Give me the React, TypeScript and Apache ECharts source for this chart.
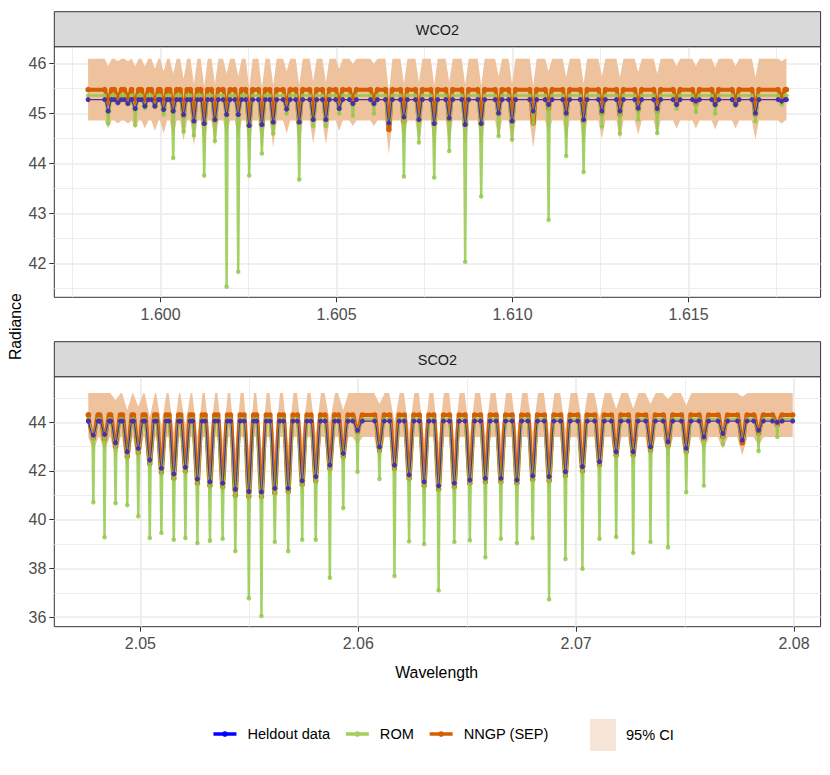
import React, { useEffect, useRef } from "react";
import * as echarts from "echarts";

// ---------------- data ----------------
// WCO2 panel
const wcoRange = [1.59794, 1.61778];
const wcoLineWl = [
  1.598511, 1.598787, 1.599071, 1.599278, 1.599554, 1.599838, 1.600085, 1.600358,
  1.600653, 1.600946, 1.601239, 1.601543, 1.601875, 1.602205, 1.602517, 1.602878,
  1.603199, 1.60358, 1.603938, 1.604335, 1.604696, 1.605074, 1.605463, 1.60606,
  1.606486, 1.606912, 1.607338, 1.607773, 1.608199, 1.608653, 1.609108, 1.609602,
  1.609985, 1.610585, 1.611023, 1.611523, 1.612017, 1.612537, 1.613048, 1.613568,
  1.614108, 1.614659, 1.615207, 1.615756, 1.616335, 1.616898, 1.617642,
];
const wcoRomMin = [
  44.8, 45.2, 45.2, 44.77, 45.11, 45.15, 44.98, 44.11, 44.64, 44.56, 43.76, 44.45,
  41.53, 41.83, 43.76, 44.2, 44.6, 45.0, 43.68, 44.75, 44.75, 45.0, 44.96, 45.0,
  44.8, 43.74, 44.42, 43.72, 44.25, 42.03, 43.34, 44.55, 44.48, 44.8, 42.87, 44.15,
  43.83, 44.74, 44.6, 44.88, 44.61, 45.1, 45.03, 45.0, 45.15, 44.85, 45.18,
];
const wcoObsMin = [
  45.05, 45.22, 45.2, 45.1, 45.15, 45.15, 45.08, 45.05, 44.98, 44.85, 44.8, 44.88,
  44.98, 44.98, 44.76, 44.78, 44.83, 45.09, 44.83, 44.88, 44.88, 45.1, 45.2, 45.2,
  44.81, 44.93, 44.88, 44.8, 44.91, 44.78, 44.8, 45.01, 44.85, 45.05, 45.18, 45.01,
  44.88, 45.05, 45.05, 45.11, 45.1, 45.18, 45.25, 45.18, 45.18, 45.01, 45.25,
];
const wcoNngpMin = [
  45.2, 45.3, 45.3, 45.2, 45.2, 45.15, 45.1, 45.05, 44.95, 44.85, 44.8, 44.85,
  45.05, 45.0, 44.77, 44.77, 44.82, 45.1, 44.82, 44.9, 44.88, 45.15, 45.25, 45.25,
  44.68, 44.85, 44.88, 44.82, 44.88, 44.83, 44.81, 45.0, 44.85, 44.81, 45.1, 44.98,
  44.85, 45.0, 44.98, 45.08, 45.05, 45.2, 45.2, 45.18, 45.2, 44.98, 45.3,
];
const wcoObsBase = 45.28;
const wcoRomBase = 45.36;
const wcoNngpBase = 45.48;
const wcoCiHigh = 46.1;
const wcoCiLow = 44.86;
const wcoCiHighOffset = 0.75;
const wcoCiLowOffset = 0.5;

// SCO2 panel
const scoRange = [2.04761, 2.07994];
const scoLineWl = [
  2.047841, 2.048356, 2.048861, 2.049398, 2.049904, 2.050432, 2.050965, 2.051534,
  2.052067, 2.052618, 2.053193, 2.053776, 2.054359, 2.054979, 2.055558, 2.056169,
  2.056785, 2.057428, 2.058048, 2.058696, 2.059311, 2.059968, 2.060974, 2.061663,
  2.062334, 2.063023, 2.063689, 2.06441, 2.065122, 2.065834, 2.066546, 2.067281,
  2.068007, 2.06876, 2.069509, 2.07029, 2.071071, 2.071838, 2.072619, 2.073413,
  2.074217, 2.075053, 2.075862, 2.076734, 2.077626, 2.078374, 2.079233,
];
const scoRomMin = [
  40.72, 39.28, 40.68, 40.6, 40.14, 39.25, 39.46, 39.18, 39.25, 39.04, 39.14, 39.22,
  38.71, 36.78, 36.05, 39.09, 38.71, 39.18, 39.18, 37.62, 40.48, 41.97, 41.67, 37.69,
  39.11, 39.0, 37.1, 39.09, 39.16, 38.46, 39.22, 39.04, 39.25, 36.73, 38.39, 37.99,
  39.22, 39.29, 38.64, 39.09, 38.87, 41.13, 41.4, 43.1, 43.3, 42.82, 43.4,
];
const scoObsMin = [
  43.47, 43.5, 43.16, 42.79, 42.93, 42.45, 42.11, 41.88, 42.15, 41.67, 41.56, 41.5,
  41.25, 41.16, 41.14, 41.29, 41.29, 41.6, 41.77, 42.24, 42.72, 43.67, 42.99, 42.24,
  41.84, 41.56, 41.39, 41.5, 41.63, 41.7, 41.7, 41.63, 41.8, 41.77, 41.97, 42.18,
  42.38, 42.79, 42.79, 42.99, 43.2, 42.93, 43.4, 43.54, 43.27, 43.67, 44.0,
];
const scoNngpMin = [
  43.35, 43.3, 43.0, 42.6, 42.75, 42.3, 41.95, 41.7, 42.0, 41.5, 41.4, 41.35,
  41.0, 40.95, 40.95, 41.1, 41.15, 41.45, 41.6, 42.1, 42.6, 43.6, 42.85, 42.1,
  41.7, 41.4, 41.25, 41.35, 41.5, 41.55, 41.55, 41.5, 41.65, 41.6, 41.8, 42.0,
  42.25, 42.65, 42.65, 42.85, 43.05, 42.8, 43.3, 43.4, 43.15, 43.55, 43.9,
];
const scoObsBase = 44.05;
const scoRomBase = 44.12;
const scoNngpBase = 44.3;
const scoCiHigh = 45.2;
const scoCiLow = 43.4;
const scoCiHighOffset = 1.9;
const scoCiLowOffset = 0.5;

// axes
const wcoXExtent = [1.59698, 1.61875];
const wcoYExtent = [41.32, 46.34];
const scoXExtent = [2.04605, 2.08122];
const scoYExtent = [35.61, 45.87];
const wcoXTicks = [1.6, 1.605, 1.61, 1.615];
const wcoYTicks = [42, 43, 44, 45, 46];
const scoXTicks = [2.05, 2.06, 2.07, 2.08];
const scoYTicks = [36, 38, 40, 42, 44];

// ---------------- helpers to build the line tables ----------------
function buildDips(range: number[], wl: number[], mins: number[], base: number, hw: number) {
  const pts: number[][] = [[range[0], base]];
  wl.forEach((w, i) => {
    pts.push([w - hw, base], [w, mins[i]], [w + hw, base]);
  });
  pts.push([range[1], base]);
  return pts;
}

function buildRom(range: number[], wl: number[], romMin: number[], obsMin: number[], base: number, hw: number, hs: number) {
  const pts: number[][] = [[range[0], base]];
  wl.forEach((w, i) => {
    const sh = Math.max(obsMin[i], romMin[i]);
    pts.push([w - hw, base], [w - hs, sh], [w, romMin[i]], [w + hs, sh], [w + hw, base]);
  });
  pts.push([range[1], base]);
  return pts;
}

function buildBand(range: number[], wl: number[], nngpMin: number[], hi: number, lo: number, hiOff: number, loOff: number, hw: number) {
  const upper: number[][] = [[range[0], hi]];
  wl.forEach((w, i) => {
    upper.push([w - hw, hi], [w, Math.min(hi, nngpMin[i] + hiOff)], [w + hw, hi]);
  });
  upper.push([range[1], hi]);
  const lower: number[][] = [[range[0], lo]];
  wl.forEach((w, i) => {
    lower.push([w - hw, lo], [w, Math.min(lo, nngpMin[i] - loOff)], [w + hw, lo]);
  });
  lower.push([range[1], lo]);
  return upper.concat(lower.reverse());
}

function detectNarrow(): boolean {
  try {
    const c = document.createElement("canvas").getContext("2d");
    if (!c) return false;
    const s = "Heldout data Wavelength 1.615";
    c.font = "40px monospace";
    const a = c.measureText(s).width;
    c.font = "40px 'Liberation Sans Narrow', monospace";
    const b = c.measureText(s).width;
    return Math.abs(a - b) > 1;
  } catch (e) {
    return false;
  }
}

export default function App() {
  const ref = useRef<HTMLDivElement>(null);

  useEffect(() => {
    if (!ref.current) return;
    const chart = echarts.init(ref.current, null, { renderer: "svg" });

    const narrow = detectNarrow();
    const FONT = narrow ? "'Liberation Sans Narrow', 'Liberation Sans', sans-serif" : "'Liberation Sans', Arial, sans-serif";
    const K = narrow ? 1 : 0.82;
    const tickSize = 19.5 * K;
    const titleSize = 19.3 * K;
    const stripSize = 17.6 * K;
    const legendSize = 17.8 * K;

    const GREEN = "#93C94A";
    const ORANGE = "#D55E00";
    const PURPLE = "#4F2DA8";
    const BAND = "#EDC29D";

    const gridLeft = 54.3;
    const gridWidth = 766.3;
    const topGridTop = 46.7;
    const topGridH = 250.6;
    const botGridTop = 376.7;
    const botGridH = 250;

    const wcoObs = buildDips(wcoRange, wcoLineWl, wcoObsMin, wcoObsBase, 0.0001);
    const wcoNngp = buildDips(wcoRange, wcoLineWl, wcoNngpMin, wcoNngpBase, 0.0001);
    const wcoRom = buildRom(wcoRange, wcoLineWl, wcoRomMin, wcoObsMin, wcoRomBase, 0.0001, 0.00003);
    const wcoBand = buildBand(wcoRange, wcoLineWl, wcoNngpMin, wcoCiHigh, wcoCiLow, wcoCiHighOffset, wcoCiLowOffset, 0.0001);

    const scoObs = buildDips(scoRange, scoLineWl, scoObsMin, scoObsBase, 0.00022);
    const scoNngp = buildDips(scoRange, scoLineWl, scoNngpMin, scoNngpBase, 0.00022);
    const scoRom = buildRom(scoRange, scoLineWl, scoRomMin, scoObsMin, scoRomBase, 0.00022, 0.00004);
    const scoBand = buildBand(scoRange, scoLineWl, scoNngpMin, scoCiHigh, scoCiLow, scoCiHighOffset, scoCiLowOffset, 0.00024);

    const xAxis = (gridIndex: number, ext: number[], ticks: number[], digits: number) => ({
      type: "value",
      gridIndex,
      min: ext[0],
      max: ext[1],
      axisLine: { show: false },
      axisTick: { show: true, length: 5, customValues: ticks, lineStyle: { color: "#333333", width: 1 } },
      axisLabel: {
        customValues: ticks,
        formatter: (v: number) => v.toFixed(digits),
        color: "#4D4D4D",
        fontSize: tickSize,
        fontFamily: FONT,
        margin: 9,
      },
      splitLine: { show: true, lineStyle: { color: "#EBEBEB", width: 1.7 } },
      minorTick: { show: false, splitNumber: 2 },
      minorSplitLine: { show: true, lineStyle: { color: "#EBEBEB", width: 0.9 } },
    });
    const yAxis = (gridIndex: number, ext: number[], ticks: number[]) => ({
      type: "value",
      gridIndex,
      min: ext[0],
      max: ext[1],
      axisLine: { show: false },
      axisTick: { show: true, length: 5, customValues: ticks, lineStyle: { color: "#333333", width: 1 } },
      axisLabel: {
        customValues: ticks,
        formatter: (v: number) => String(Math.round(v)),
        color: "#4D4D4D",
        fontSize: tickSize,
        fontFamily: FONT,
        margin: 8,
      },
      splitLine: { show: true, lineStyle: { color: "#EBEBEB", width: 1.7 } },
      minorTick: { show: false, splitNumber: 2 },
      minorSplitLine: { show: true, lineStyle: { color: "#EBEBEB", width: 0.9 } },
    });

    const bandSeries = (idx: number, pts: number[][]) => ({
      type: "custom",
      name: "95% CI",
      xAxisIndex: idx,
      yAxisIndex: idx,
      silent: true,
      z: 1,
      itemStyle: { color: BAND },
      data: [pts[0]],
      encode: { x: 0, y: 1 },
      renderItem: (_p: any, api: any) => ({
        type: "polygon",
        shape: { points: pts.map((p) => api.coord(p)) },
        style: { fill: BAND, opacity: 1 },
      }),
    });
    const lineSeries = (idx: number, name: string, data: number[][], color: string, width: number, size: number, opacity: number, z: number, smooth: number) => ({
      type: "line",
      name,
      xAxisIndex: idx,
      yAxisIndex: idx,
      data,
      z,
      symbol: "circle",
      symbolSize: size,
      showSymbol: true,
      showAllSymbol: true,
      silent: true,
      smooth,
      smoothMonotone: "x",
      color,
      lineStyle: { color, width, opacity },
      itemStyle: { color, opacity },
    });

    const panelSeries = (idx: number, band: number[][], nngp: number[][], rom: number[][], obs: number[][]) => [
      bandSeries(idx, band),
      lineSeries(idx, "NNGP (SEP)", nngp, ORANGE, 4, 5.5, 1, 2, 0.35),
      lineSeries(idx, "ROM", rom, GREEN, 2.5, 4.5, 0.85, 3, 0),
      lineSeries(idx, "Heldout data", obs, PURPLE, 1.3, 5, 1, 4, 0.35),
    ];

    const strip = (y: number, label: string) => [
      {
        type: "rect",
        shape: { x: gridLeft, y, width: gridWidth, height: 35 },
        style: { fill: "#D9D9D9", stroke: "#333333", lineWidth: 1 },
        z: 10,
      },
      {
        type: "text",
        x: gridLeft + gridWidth / 2,
        y: y + 18.5,
        style: { text: label, fontSize: stripSize, fontFamily: FONT, fill: "#1A1A1A", align: "center", verticalAlign: "middle" },
        z: 11,
      },
    ];

    const option: any = {
      animation: false,
      backgroundColor: "#FFFFFF",
      grid: [
        { left: gridLeft, top: topGridTop, width: gridWidth, height: topGridH, show: true, borderColor: "#333333", borderWidth: 1, backgroundColor: "transparent" },
        { left: gridLeft, top: botGridTop, width: gridWidth, height: botGridH, show: true, borderColor: "#333333", borderWidth: 1, backgroundColor: "transparent" },
      ],
      xAxis: [xAxis(0, wcoXExtent, wcoXTicks, 3), xAxis(1, scoXExtent, scoXTicks, 2)],
      yAxis: [yAxis(0, wcoYExtent, wcoYTicks), yAxis(1, scoYExtent, scoYTicks)],
      legend: [
        {
          left: 211.7,
          top: 726.5,
          padding: 0,
          itemWidth: 23,
          itemHeight: 7,
          itemGap: 14,
          selectedMode: false,
          textStyle: { fontSize: legendSize, fontFamily: FONT, color: "#000000", padding: [0, 0, 0, 6] },
          data: [
            { name: "Heldout data", itemStyle: { color: "#0000FF", opacity: 1 }, lineStyle: { color: "#0000FF", width: 3.5, opacity: 1 } },
            { name: "ROM", itemStyle: { color: "#A3CF5E", opacity: 1 }, lineStyle: { color: "#A3CF5E", width: 3.5, opacity: 1 } },
            { name: "NNGP (SEP)", itemStyle: { color: ORANGE, opacity: 1 }, lineStyle: { color: ORANGE, width: 3.5, opacity: 1 } },
          ],
        },
        {
          left: 590,
          top: 719,
          padding: 0,
          itemWidth: 26,
          itemHeight: 32,
          selectedMode: false,
          textStyle: { fontSize: legendSize, fontFamily: FONT, color: "#000000", padding: [0, 0, 0, 5] },
          data: [{ name: "95% CI", icon: "rect", itemStyle: { color: "#F6E4D6", opacity: 1 } }],
        },
      ],
      graphic: [
        ...strip(11.7, "WCO2"),
        ...strip(341.7, "SCO2"),
        {
          type: "text",
          x: 436.7,
          y: 672.5,
          style: { text: "Wavelength", fontSize: titleSize, fontFamily: FONT, fill: "#000000", align: "center", verticalAlign: "middle" },
        },
        {
          type: "text",
          x: 15.5,
          y: 326.7,
          rotation: Math.PI / 2,
          style: { text: "Radiance", fontSize: titleSize, fontFamily: FONT, fill: "#000000", align: "center", verticalAlign: "middle" },
        },
      ],
      series: [
        ...panelSeries(0, wcoBand, wcoNngp, wcoRom, wcoObs),
        ...panelSeries(1, scoBand, scoNngp, scoRom, scoObs),
      ],
    };

    chart.setOption(option);
    return () => chart.dispose();
  }, []);

  return <div ref={ref} style={{ position: "fixed", left: 0, top: 0, width: 830, height: 775 }} />;
}
